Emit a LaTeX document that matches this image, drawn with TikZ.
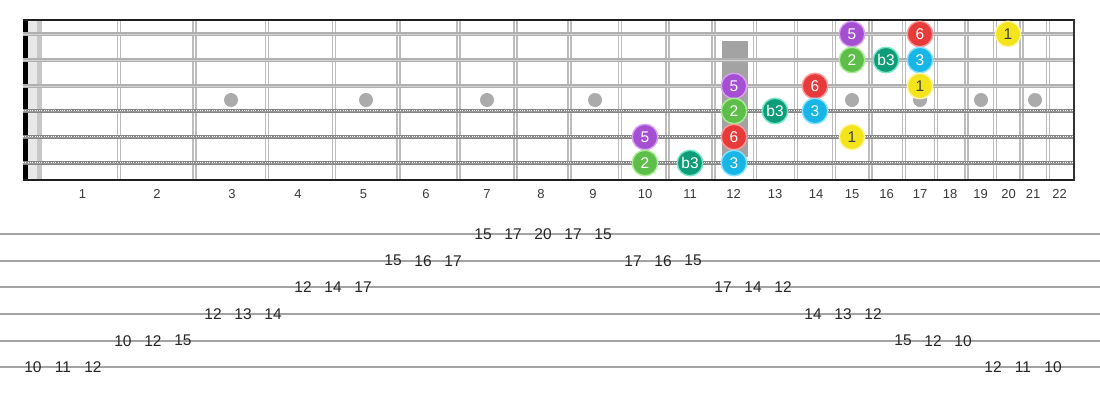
\documentclass[tikz,border=0pt]{standalone}
\usepackage{fontspec}
\setmainfont{Liberation Sans}
\definecolor{cpurple}{HTML}{A54FD3}
\definecolor{cpurpleR}{HTML}{D9A2F2}
\definecolor{cgreen}{HTML}{5EBE4A}
\definecolor{cgreenR}{HTML}{A9EE92}
\definecolor{cteal}{HTML}{0E9C79}
\definecolor{ctealR}{HTML}{72E6C6}
\definecolor{ccyan}{HTML}{18B6E6}
\definecolor{ccyanR}{HTML}{86E2FF}
\definecolor{cred}{HTML}{E73B3B}
\definecolor{credR}{HTML}{FF9A9A}
\definecolor{cyellow}{HTML}{F4E41C}
\definecolor{cyellowR}{HTML}{FFF7A6}
\definecolor{fretgrey}{HTML}{BDBDBD}
\definecolor{stringgrey}{HTML}{B0B0B0}
\definecolor{stringlight}{HTML}{D2D2D2}
\definecolor{woundgrey}{HTML}{858585}
\definecolor{dotgrey}{HTML}{ABABAB}
\definecolor{tabline}{HTML}{A3A3A3}
\definecolor{tabtext}{HTML}{262626}
\definecolor{labtext}{HTML}{3A3A3A}
\tikzset{
  notebase/.style={circle, minimum size=25.5pt, inner sep=0pt, line width=1.4pt,
    font=\fontsize{15.5}{15.5}\selectfont, text=white},
  degfive/.style={notebase, fill=cpurple, draw=cpurpleR},
  degtwo/.style={notebase, fill=cgreen, draw=cgreenR},
  degbthree/.style={notebase, fill=cteal, draw=ctealR},
  degthree/.style={notebase, fill=ccyan, draw=ccyanR},
  degsix/.style={notebase, fill=cred, draw=credR},
  degone/.style={notebase, fill=cyellow, draw=cyellowR, text=black!75},
  tabnum/.style={inner sep=0pt, font=\fontsize{15.5}{16}\selectfont, text=tabtext},
  fretlab/.style={inner sep=0pt, font=\fontsize{13}{13}\selectfont, text=labtext},
  inlay/.style={circle, fill=dotgrey, minimum size=14pt, inner sep=0pt},
  tabrule/.style={draw=tabline, line width=2pt},
}
\begin{document}
\begin{tikzpicture}[x=1pt,y=-1pt]
\useasboundingbox (0,0) rectangle (1100,400);
\fill[white] (0,0) rectangle (1100,400);
% nut side strips
\fill[black!9] (28,20) rectangle (37,180);
\fill[black!22] (37,20) rectangle (41.5,180);
% fret 12 marker
\fill[black!36] (722,41) rectangle (748,157);
% inlay dots
\foreach \x [count=\i] in {231,366,487,595,852,920,981,1035}
  \node[inlay] (dot\i) at (\x,100) {};
% frets
\foreach \x in {119,194.5,267,334,398.5,458.5,515.5,569.5,620,667.5,713.5,755,796,834,870.5,904,936,966.5,995,1021.5,1048}{
  \draw[fretgrey, line width=4.6pt] (\x,20) -- (\x,180);
  \draw[white, line width=1.4pt] (\x,20) -- (\x,180);
}
% nut
\fill[black] (23,19) rectangle (27.5,181);
% plain strings
\foreach \y in {34,60,86}{
  \draw[stringgrey, line width=3.6pt] (23,\y) -- (1074,\y);
  \draw[stringlight, line width=1pt] (23,\y) -- (1074,\y);
}
% wound strings
\foreach \y in {111,137,163}{
  \draw[woundgrey, line width=4.4pt] (23,\y) -- (1074,\y);
  \draw[white, line width=2.4pt, dash pattern=on 0.9pt off 1.4pt] (23,\y) -- (1074,\y);
  \draw[black!40, line width=0.6pt] (23,\y) -- (1074,\y);
}
% borders
\draw[black!88, line width=2pt] (23,19.5) -- (1074,19.5);
\draw[black!88, line width=2pt] (23,180) -- (1074,180);
\draw[black!80, line width=2.2pt] (1074,18.5) -- (1074,181);
% fret numbers
\foreach \x [count=\n] in {82.5,157,232,298,363.5,426,487,541,593,645,690,733.5,775,816,852,886.5,920,950,980.5,1008.5,1033,1059.5}
  \node[fretlab] (lab\n) at (\x,194) {\n};
% notes
\foreach \x/\y/\t/\st [count=\k] in {
  852/34/5/degfive, 920/34/6/degsix, 1008/34/1/degone,
  852/60/2/degtwo, 886/60/b3/degbthree, 920/60/3/degthree,
  734/86/5/degfive, 815/86/6/degsix, 920/86/1/degone,
  734/111/2/degtwo, 775/111/b3/degbthree, 815/111/3/degthree,
  645/137/5/degfive, 734/137/6/degsix, 852/137/1/degone,
  645/163/2/degtwo, 690/163/b3/degbthree, 734/163/3/degthree}
  \node[\st] (note\k) at (\x,\y) {\t};
% tab lines
\foreach \y [count=\r] in {234,260.7,287.3,314,340.7,367.3}
  \draw[tabrule] (0,\y) coordinate (tl\r) -- (1100,\y) coordinate (tr\r);
% tab numbers
\foreach \i/\y/\t in {
  0/367.3/10, 1/367.3/11, 2/367.3/12,
  3/340.7/10, 4/340.7/12, 5/340.7/15,
  6/314/12, 7/314/13, 8/314/14,
  9/287.3/12, 10/287.3/14, 11/287.3/17,
  12/260.7/15, 13/260.7/16, 14/260.7/17,
  15/234/15, 16/234/17, 17/234/20, 18/234/17, 19/234/15,
  20/260.7/17, 21/260.7/16, 22/260.7/15,
  23/287.3/17, 24/287.3/14, 25/287.3/12,
  26/314/14, 27/314/13, 28/314/12,
  29/340.7/15, 30/340.7/12, 31/340.7/10,
  32/367.3/12, 33/367.3/11, 34/367.3/10}
  \node[tabnum] (tab\i) at ({33+30*\i},\y) {\t};
\end{tikzpicture}
\end{document}
